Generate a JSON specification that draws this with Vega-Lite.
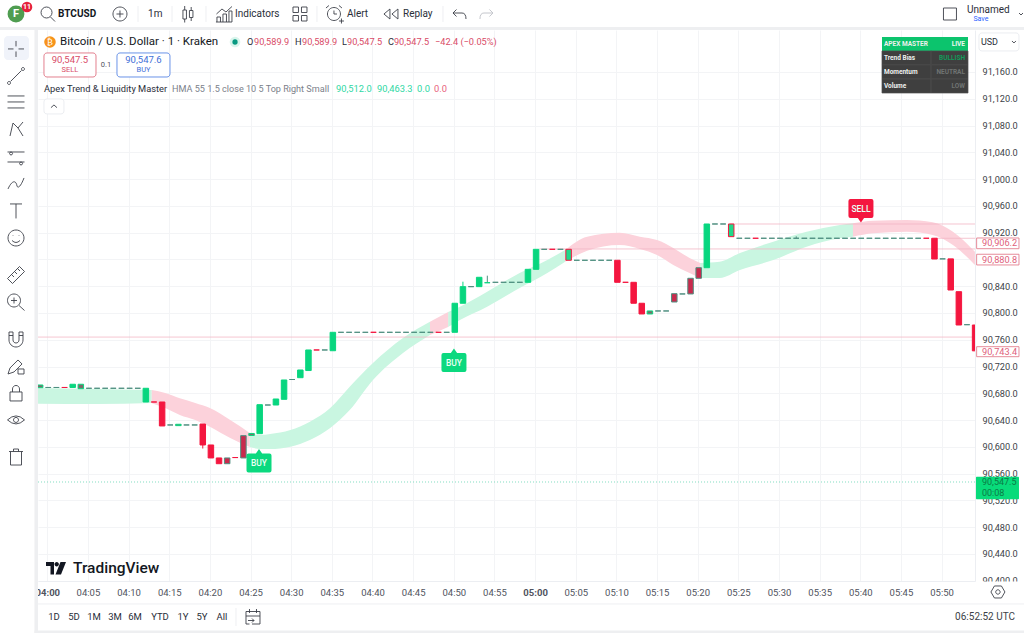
{
  "$schema": "https://vega.github.io/schema/vega-lite/v6.json",
  "width": 937,
  "height": 551,
  "autosize": "none",
  "padding": {"left": 38, "top": 30, "right": 49, "bottom": 52},
  "background": "white",
  "config": {"view": {"stroke": null}, "text": {"font": "Roboto"}, "axis": {"labelFont": "Roboto"}},
  "datasets": {
    "band": [
      {"seg": 1, "trend": "bull", "m": -1.14, "p": 90687.9, "p2": 90664.5},
      {"seg": 1, "trend": "bull", "m": 6, "p": 90686.4, "p2": 90664},
      {"seg": 1, "trend": "bull", "m": 12.85, "p": 90685, "p2": 90665.5},
      {"seg": 2, "trend": "bear", "m": 12.85, "p": 90685, "p2": 90665},
      {"seg": 2, "trend": "bear", "m": 14.5, "p": 90680.5, "p2": 90658},
      {"seg": 2, "trend": "bear", "m": 16.3, "p": 90672.5, "p2": 90647.6},
      {"seg": 2, "trend": "bear", "m": 18.2, "p": 90665.5, "p2": 90640.1},
      {"seg": 2, "trend": "bear", "m": 20, "p": 90658, "p2": 90630.1},
      {"seg": 2, "trend": "bear", "m": 22.5, "p": 90640.1, "p2": 90613.2},
      {"seg": 2, "trend": "bear", "m": 24.9, "p": 90620.7, "p2": 90599.8},
      {"seg": 3, "trend": "bull", "m": 24.9, "p": 90619.2, "p2": 90599.8},
      {"seg": 3, "trend": "bull", "m": 26.2, "p": 90617.7, "p2": 90596.8},
      {"seg": 3, "trend": "bull", "m": 27.4, "p": 90619.2, "p2": 90596.8},
      {"seg": 3, "trend": "bull", "m": 29.9, "p": 90625.2, "p2": 90600.2},
      {"seg": 3, "trend": "bull", "m": 32.3, "p": 90637.6, "p2": 90610.2},
      {"seg": 3, "trend": "bull", "m": 34.8, "p": 90658, "p2": 90628.2},
      {"seg": 3, "trend": "bull", "m": 37.2, "p": 90689.9, "p2": 90655.1},
      {"seg": 3, "trend": "bull", "m": 40.06, "p": 90725.3, "p2": 90699.9},
      {"seg": 3, "trend": "bull", "m": 43.75, "p": 90762.6, "p2": 90740.2},
      {"seg": 3, "trend": "bull", "m": 47.07, "p": 90787, "p2": 90767.1},
      {"seg": 4, "trend": "bear", "m": 47.07, "p": 90787, "p2": 90767.1},
      {"seg": 4, "trend": "bear", "m": 49.3, "p": 90801.5, "p2": 90779.1},
      {"seg": 5, "trend": "bull", "m": 49.3, "p": 90801.5, "p2": 90779.1},
      {"seg": 5, "trend": "bull", "m": 50.76, "p": 90809.4, "p2": 90789.5},
      {"seg": 5, "trend": "bull", "m": 54.1, "p": 90831.8, "p2": 90809.4},
      {"seg": 5, "trend": "bull", "m": 58.1, "p": 90859.7, "p2": 90837.3},
      {"seg": 5, "trend": "bull", "m": 61.5, "p": 90879.1, "p2": 90859.7},
      {"seg": 5, "trend": "bull", "m": 63.7, "p": 90894.1, "p2": 90876.6},
      {"seg": 6, "trend": "bear", "m": 63.7, "p": 90894.1, "p2": 90876.6},
      {"seg": 6, "trend": "bear", "m": 66.4, "p": 90914, "p2": 90893},
      {"seg": 6, "trend": "bear", "m": 70.4, "p": 90920, "p2": 90901.6},
      {"seg": 6, "trend": "bear", "m": 72.9, "p": 90914, "p2": 90895.6},
      {"seg": 6, "trend": "bear", "m": 75, "p": 90909, "p2": 90886.6},
      {"seg": 6, "trend": "bear", "m": 77, "p": 90897.1, "p2": 90871.7},
      {"seg": 6, "trend": "bear", "m": 79, "p": 90882.1, "p2": 90859.7},
      {"seg": 6, "trend": "bear", "m": 80.3, "p": 90874.7, "p2": 90852.3},
      {"seg": 7, "trend": "bull", "m": 80.3, "p": 90874.7, "p2": 90852.3},
      {"seg": 7, "trend": "bull", "m": 82.7, "p": 90876.6, "p2": 90852.3},
      {"seg": 7, "trend": "bull", "m": 85.2, "p": 90889.6, "p2": 90864.2},
      {"seg": 7, "trend": "bull", "m": 89.3, "p": 90906.5, "p2": 90879.1},
      {"seg": 7, "trend": "bull", "m": 93.4, "p": 90921.4, "p2": 90899},
      {"seg": 7, "trend": "bull", "m": 97.5, "p": 90931.4, "p2": 90911.6},
      {"seg": 7, "trend": "bull", "m": 99.1, "p": 90934, "p2": 90914},
      {"seg": 8, "trend": "bear", "m": 99.1, "p": 90934, "p2": 90914},
      {"seg": 8, "trend": "bear", "m": 101.6, "p": 90937.9, "p2": 90919},
      {"seg": 8, "trend": "bear", "m": 105.7, "p": 90938.9, "p2": 90921.4},
      {"seg": 8, "trend": "bear", "m": 108.9, "p": 90935.5, "p2": 90916.5},
      {"seg": 8, "trend": "bear", "m": 111.4, "p": 90921.4, "p2": 90901.6},
      {"seg": 8, "trend": "bear", "m": 114.1, "p": 90891.5, "p2": 90871.7}
    ],
    "levels": [
      {"kind": "pink", "m": -1.14, "m2": 114.11, "p": 90764},
      {"kind": "pink", "m": 60.5, "m2": 114.11, "p": 90895.6},
      {"kind": "pink", "m": 84, "m2": 114.11, "p": 90932.9},
      {"kind": "pink", "m": 109, "m2": 114.11, "p": 90911.6},
      {"kind": "now", "m": -1.14, "m2": 114.11, "p": 90547.5}
    ],
    "candles": [
      {"m": -1, "p": 90692.4, "p2": 90688.4, "kind": "dark"},
      {"m": 0, "p": 90688.7, "p2": 90688.7, "kind": "doji"},
      {"m": 1, "p": 90688.7, "p2": 90688.7, "kind": "doji"},
      {"m": 2, "p": 90688.7, "p2": 90688.7, "kind": "dojiRed"},
      {"m": 3, "p": 90688.7, "p2": 90693.5, "kind": "up"},
      {"m": 4, "p": 90693.5, "p2": 90686.9, "kind": "dark"},
      {"m": 5, "p": 90687.5, "p2": 90687.5, "kind": "doji"},
      {"m": 6, "p": 90687.5, "p2": 90687.5, "kind": "doji"},
      {"m": 7, "p": 90687.5, "p2": 90687.5, "kind": "doji"},
      {"m": 8, "p": 90687.5, "p2": 90687.5, "kind": "doji"},
      {"m": 9, "p": 90687.5, "p2": 90687.5, "kind": "doji"},
      {"m": 10, "p": 90687.5, "p2": 90687.5, "kind": "doji"},
      {"m": 11, "p": 90687.5, "p2": 90687.5, "kind": "doji"},
      {"m": 12, "p": 90667, "p2": 90687.5, "kind": "upDark"},
      {"m": 13, "p": 90667, "p2": 90667, "kind": "dojiRed"},
      {"m": 14, "p": 90667, "p2": 90631.2, "kind": "down"},
      {"m": 15, "p": 90632.7, "p2": 90632.7, "kind": "doji"},
      {"m": 16, "p": 90633.7, "p2": 90631.7, "kind": "dark"},
      {"m": 17, "p": 90632.7, "p2": 90632.7, "kind": "doji"},
      {"m": 18, "p": 90632.7, "p2": 90632.7, "kind": "doji"},
      {"m": 19, "p": 90634.1, "p2": 90602.8, "kind": "down"},
      {"m": 20, "p": 90602.8, "p2": 90583.4, "kind": "down"},
      {"m": 21, "p": 90583.4, "p2": 90574.8, "kind": "down"},
      {"m": 22, "p": 90583.4, "p2": 90574.8, "kind": "downDark"},
      {"m": 23, "p": 90584, "p2": 90584, "kind": "dojiRed"},
      {"m": 24, "p": 90583.4, "p2": 90616.7, "kind": "downDark"},
      {"m": 25, "p": 90620, "p2": 90617, "kind": "dark"},
      {"m": 26, "p": 90619.7, "p2": 90663, "kind": "up"},
      {"m": 27, "p": 90662.5, "p2": 90662.5, "kind": "doji"},
      {"m": 28, "p": 90662.5, "p2": 90671.5, "kind": "up"},
      {"m": 29, "p": 90671, "p2": 90699.9, "kind": "up"},
      {"m": 30, "p": 90700.6, "p2": 90700.6, "kind": "doji"},
      {"m": 31, "p": 90703.3, "p2": 90714.8, "kind": "up"},
      {"m": 32, "p": 90714, "p2": 90744.7, "kind": "up"},
      {"m": 33, "p": 90744.7, "p2": 90744.7, "kind": "dojiRed"},
      {"m": 34, "p": 90744.7, "p2": 90744.7, "kind": "doji"},
      {"m": 35, "p": 90743.6, "p2": 90771.1, "kind": "up"},
      {"m": 36, "p": 90771.1, "p2": 90771.1, "kind": "doji"},
      {"m": 37, "p": 90771.1, "p2": 90771.1, "kind": "doji"},
      {"m": 38, "p": 90771.1, "p2": 90771.1, "kind": "doji"},
      {"m": 39, "p": 90771.1, "p2": 90771.1, "kind": "doji"},
      {"m": 40, "p": 90771.1, "p2": 90771.1, "kind": "dojiRed"},
      {"m": 41, "p": 90771.1, "p2": 90771.1, "kind": "doji"},
      {"m": 42, "p": 90771.1, "p2": 90771.1, "kind": "doji"},
      {"m": 43, "p": 90771.1, "p2": 90771.1, "kind": "doji"},
      {"m": 44, "p": 90771.1, "p2": 90771.1, "kind": "doji"},
      {"m": 45, "p": 90771.1, "p2": 90771.1, "kind": "doji"},
      {"m": 46, "p": 90771.1, "p2": 90771.1, "kind": "doji"},
      {"m": 47, "p": 90771.1, "p2": 90771.1, "kind": "doji"},
      {"m": 48, "p": 90771.1, "p2": 90771.1, "kind": "dojiRed"},
      {"m": 49, "p": 90771.1, "p2": 90771.1, "kind": "doji"},
      {"m": 50, "p": 90771.1, "p2": 90814.5, "kind": "up"},
      {"m": 51, "p": 90814.5, "p2": 90839.3, "kind": "up"},
      {"m": 52, "p": 90839.3, "p2": 90839.3, "kind": "doji"},
      {"m": 53, "p": 90839.3, "p2": 90853.3, "kind": "up"},
      {"m": 54, "p": 90845.2, "p2": 90845.2, "kind": "up"},
      {"m": 55, "p": 90845.8, "p2": 90845.8, "kind": "doji"},
      {"m": 56, "p": 90845.8, "p2": 90845.8, "kind": "doji"},
      {"m": 57, "p": 90845.8, "p2": 90845.8, "kind": "doji"},
      {"m": 58, "p": 90845.8, "p2": 90845.8, "kind": "doji"},
      {"m": 59, "p": 90845.8, "p2": 90865.2, "kind": "up"},
      {"m": 60, "p": 90865.2, "p2": 90895.1, "kind": "up"},
      {"m": 61, "p": 90895.1, "p2": 90895.1, "kind": "doji"},
      {"m": 62, "p": 90895.1, "p2": 90895.1, "kind": "dojiRed"},
      {"m": 63, "p": 90895.1, "p2": 90895.1, "kind": "doji"},
      {"m": 64, "p": 90895.1, "p2": 90878.7, "kind": "upEdge"},
      {"m": 65, "p": 90878.7, "p2": 90878.7, "kind": "doji"},
      {"m": 66, "p": 90878.7, "p2": 90878.7, "kind": "doji"},
      {"m": 67, "p": 90878.7, "p2": 90878.7, "kind": "doji"},
      {"m": 68, "p": 90878.7, "p2": 90878.7, "kind": "doji"},
      {"m": 69, "p": 90878.7, "p2": 90878.7, "kind": "doji"},
      {"m": 70, "p": 90878.7, "p2": 90845.8, "kind": "down"},
      {"m": 71, "p": 90845.8, "p2": 90845.8, "kind": "dojiRed"},
      {"m": 72, "p": 90845.8, "p2": 90814.5, "kind": "down"},
      {"m": 73, "p": 90814.5, "p2": 90798.5, "kind": "down"},
      {"m": 74, "p": 90803, "p2": 90798.5, "kind": "dark"},
      {"m": 75, "p": 90803, "p2": 90803, "kind": "doji"},
      {"m": 76, "p": 90803, "p2": 90803, "kind": "doji"},
      {"m": 77, "p": 90816.4, "p2": 90828.8, "kind": "downDark"},
      {"m": 78, "p": 90828.4, "p2": 90828.4, "kind": "doji"},
      {"m": 79, "p": 90828.4, "p2": 90851.8, "kind": "downDark"},
      {"m": 80, "p": 90851.8, "p2": 90867.6, "kind": "downDark"},
      {"m": 81, "p": 90867.6, "p2": 90932.9, "kind": "up"},
      {"m": 82, "p": 90932.9, "p2": 90932.9, "kind": "doji"},
      {"m": 83, "p": 90932.9, "p2": 90932.9, "kind": "doji"},
      {"m": 84, "p": 90932.9, "p2": 90914, "kind": "upEdge"},
      {"m": 85, "p": 90911.6, "p2": 90911.6, "kind": "doji"},
      {"m": 86, "p": 90911.6, "p2": 90911.6, "kind": "doji"},
      {"m": 87, "p": 90911.6, "p2": 90911.6, "kind": "dojiRed"},
      {"m": 88, "p": 90911.6, "p2": 90911.6, "kind": "doji"},
      {"m": 89, "p": 90911.6, "p2": 90911.6, "kind": "doji"},
      {"m": 90, "p": 90911.6, "p2": 90911.6, "kind": "doji"},
      {"m": 91, "p": 90911.6, "p2": 90911.6, "kind": "doji"},
      {"m": 92, "p": 90911.6, "p2": 90911.6, "kind": "doji"},
      {"m": 93, "p": 90911.6, "p2": 90911.6, "kind": "doji"},
      {"m": 94, "p": 90911.6, "p2": 90911.6, "kind": "doji"},
      {"m": 95, "p": 90911.6, "p2": 90911.6, "kind": "doji"},
      {"m": 96, "p": 90911.6, "p2": 90911.6, "kind": "doji"},
      {"m": 97, "p": 90911.6, "p2": 90911.6, "kind": "doji"},
      {"m": 98, "p": 90911.6, "p2": 90911.6, "kind": "doji"},
      {"m": 99, "p": 90911.6, "p2": 90911.6, "kind": "doji"},
      {"m": 100, "p": 90911.6, "p2": 90911.6, "kind": "doji"},
      {"m": 101, "p": 90911.6, "p2": 90911.6, "kind": "doji"},
      {"m": 102, "p": 90911.6, "p2": 90911.6, "kind": "doji"},
      {"m": 103, "p": 90911.6, "p2": 90911.6, "kind": "doji"},
      {"m": 104, "p": 90911.6, "p2": 90911.6, "kind": "doji"},
      {"m": 105, "p": 90911.6, "p2": 90911.6, "kind": "doji"},
      {"m": 106, "p": 90911.6, "p2": 90911.6, "kind": "doji"},
      {"m": 107, "p": 90911.6, "p2": 90911.6, "kind": "doji"},
      {"m": 108, "p": 90911.6, "p2": 90911.6, "kind": "dojiRed"},
      {"m": 109, "p": 90911.6, "p2": 90880.6, "kind": "down"},
      {"m": 110, "p": 90880.8, "p2": 90880.8, "kind": "doji"},
      {"m": 111, "p": 90880.8, "p2": 90834.3, "kind": "down"},
      {"m": 112, "p": 90831.8, "p2": 90782, "kind": "down"},
      {"m": 113, "p": 90782.5, "p2": 90782.5, "kind": "doji"},
      {"m": 114, "p": 90782, "p2": 90743.4, "kind": "down"}
    ],
    "wicks": [
      {"m": 19, "p": 90634.1, "p2": 90597.5, "kind": "down"},
      {"m": 51, "p": 90839.3, "p2": 90846.7, "kind": "up"},
      {"m": 54, "p": 90845.2, "p2": 90855.7, "kind": "doji"},
      {"m": 92, "p": 90911.6, "p2": 90914.5, "kind": "doji"}
    ],
    "signals": [
      {"m": 26.04, "p": 90575.9, "text": "BUY"},
      {"m": 50.02, "p": 90726, "text": "BUY"},
      {"m": 100.08, "p": 90956, "text": "SELL"}
    ],
    "boxes": [
      {"g": "strip", "m": -5.82, "m2": 120.14, "p": 91227.2, "p2": 91222.7},
      {"g": "strip", "m": -1.58, "m2": -1.14, "p": 91222.7, "p2": 90321.9},
      {"g": "strip", "m": -1.58, "m2": 120.14, "p": 90325.6, "p2": 90321.9},
      {"g": "cover", "m": 114.23, "m2": 120.14, "p": 90398.8, "p2": 90365.3},
      {"g": "tool", "m": -5.33, "m2": -2.25, "p": 91213.8, "p2": 91177.9},
      {"g": "sell", "m": -0.41, "m2": 5.99, "p": 91188.4, "p2": 91152.5},
      {"g": "buy", "m": 8.57, "m2": 15.09, "p": 91188.4, "p2": 91152.5},
      {"g": "soft", "m": -0.41, "m2": 2.05, "p": 91119.7, "p2": 91097.3},
      {"g": "soft", "m": 114.6, "m2": 119.52, "p": 91218.3, "p2": 91191.4},
      {"g": "head", "m": 102.67, "m2": 113.25, "p": 91212.3, "p2": 91191.4},
      {"g": "panel", "m": 102.67, "m2": 108.7, "p": 91191.4, "p2": 91170.5},
      {"g": "panel", "m": 108.7, "m2": 113.25, "p": 91191.4, "p2": 91170.5},
      {"g": "panel", "m": 102.67, "m2": 108.7, "p": 91170.5, "p2": 91149.5},
      {"g": "panel", "m": 108.7, "m2": 113.25, "p": 91170.5, "p2": 91149.5},
      {"g": "panel", "m": 102.67, "m2": 108.7, "p": 91149.5, "p2": 91128.6},
      {"g": "panel", "m": 108.7, "m2": 113.25, "p": 91149.5, "p2": 91128.6},
      {"g": "tag", "m": 114.31, "m2": 119.52, "p": 90912, "p2": 90896},
      {"g": "tag", "m": 114.31, "m2": 119.52, "p": 90887.7, "p2": 90871.7},
      {"g": "tag", "m": 114.31, "m2": 119.52, "p": 90749.6, "p2": 90734.7},
      {"g": "now", "m": 114.23, "m2": 119.52, "p": 90555.4, "p2": 90521.6}
    ],
    "seps": [
      {"m": 11.16, "p": 91258.6, "p2": 91234.7},
      {"m": 15.34, "p": 91258.6, "p2": 91234.7},
      {"m": 19.52, "p": 91258.6, "p2": 91234.7},
      {"m": 33.17, "p": 91258.6, "p2": 91234.7},
      {"m": 48.67, "p": 91258.6, "p2": 91234.7},
      {"m": 23.21, "p": 90359.3, "p2": 90332.4}
    ],
    "dividers": [
      {"m": -1.14, "m2": 120.14, "p": 90365.3}
    ],
    "discs": [
      {"g": "avatar", "m": -3.85, "p": 91246.6},
      {"g": "badge", "m": -2.5, "p": 91257.1},
      {"g": "coin", "m": 0.33, "p": 91204.8},
      {"g": "halo", "m": 23.09, "p": 91204.8},
      {"g": "live", "m": 23.09, "p": 91204.8}
    ],
    "icons": [
      {"icon": "cross", "m": -3.85, "p": 91194.4},
      {"icon": "line", "m": -3.85, "p": 91154},
      {"icon": "lines", "m": -3.85, "p": 91115.2},
      {"icon": "nodes", "m": -3.85, "p": 91074.8},
      {"icon": "fork", "m": -3.85, "p": 91033},
      {"icon": "brush", "m": -3.85, "p": 90992.7},
      {"icon": "type", "m": -3.85, "p": 90952.4},
      {"icon": "smile", "m": -3.85, "p": 90912},
      {"icon": "ruler", "m": -3.85, "p": 90856.7},
      {"icon": "zoom", "m": -3.85, "p": 90816.4},
      {"icon": "magnet", "m": -3.85, "p": 90761.1},
      {"icon": "pencil", "m": -3.85, "p": 90720.8},
      {"icon": "lock", "m": -3.85, "p": 90680.5},
      {"icon": "eye", "m": -3.85, "p": 90640.2},
      {"icon": "trash", "m": -3.85, "p": 90584.8},
      {"icon": "search", "m": 0.09, "p": 91246.6},
      {"icon": "add", "m": 8.94, "p": 91246.6},
      {"icon": "bars", "m": 17.3, "p": 91246.6},
      {"icon": "chart", "m": 21.73, "p": 91246.6},
      {"icon": "grid", "m": 31.08, "p": 91246.6},
      {"icon": "alarm", "m": 35.26, "p": 91246.6},
      {"icon": "replay", "m": 42.27, "p": 91246.6},
      {"icon": "undo", "m": 50.64, "p": 91246.6},
      {"icon": "redo", "m": 54.08, "p": 91246.6},
      {"icon": "square", "m": 111.03, "p": 91246.6},
      {"icon": "down", "m": 119.77, "p": 91246.6},
      {"icon": "down", "m": 118.9, "p": 91204.8},
      {"icon": "up", "m": 0.82, "p": 91108.5},
      {"icon": "calendar", "m": 25.3, "p": 90345.8},
      {"icon": "gear", "m": 116.93, "p": 90383.2}
    ],
    "logo": [
      {"m": 1.07, "p": 90419}
    ],
    "labels": [
      {"g": "sym", "m": 1.32, "p": 91246.6, "text": "BTCUSD"},
      {"g": "bar", "m": 12.39, "p": 91246.6, "text": "1m"},
      {"g": "bar", "m": 23.09, "p": 91246.6, "text": "Indicators"},
      {"g": "bar", "m": 36.86, "p": 91246.6, "text": "Alert"},
      {"g": "bar", "m": 43.75, "p": 91246.6, "text": "Replay"},
      {"g": "doc", "m": 113.12, "p": 91252.6, "text": "Unnamed"},
      {"g": "save", "m": 114.84, "p": 91239.2, "text": "Save"},
      {"g": "avatar", "m": -3.85, "p": 91246.6, "text": "F"},
      {"g": "badge", "m": -2.5, "p": 91257.1, "text": "11"},
      {"g": "coin", "m": 0.33, "p": 91204.8, "text": "₿"},
      {"g": "title", "m": 1.56, "p": 91204.8, "text": "Bitcoin / U.S. Dollar · 1 · Kraken"},
      {"g": "key", "m": 24.56, "p": 91204.8, "text": "O"},
      {"g": "val", "m": 25.42, "p": 91204.8, "text": "90,589.9"},
      {"g": "key", "m": 30.47, "p": 91204.8, "text": "H"},
      {"g": "val", "m": 31.33, "p": 91204.8, "text": "90,589.9"},
      {"g": "key", "m": 36.25, "p": 91204.8, "text": "L"},
      {"g": "val", "m": 36.86, "p": 91204.8, "text": "90,547.5"},
      {"g": "key", "m": 41.9, "p": 91204.8, "text": "C"},
      {"g": "val", "m": 42.64, "p": 91204.8, "text": "90,547.5"},
      {"g": "val", "m": 47.69, "p": 91204.8, "text": "−42.4 (−0.05%)"},
      {"g": "sellP", "m": 2.79, "p": 91177.9, "text": "90,547.5"},
      {"g": "sellL", "m": 2.79, "p": 91163, "text": "SELL"},
      {"g": "buyP", "m": 11.83, "p": 91177.9, "text": "90,547.6"},
      {"g": "buyL", "m": 11.83, "p": 91163, "text": "BUY"},
      {"g": "qty", "m": 7.22, "p": 91170.5, "text": "0.1"},
      {"g": "indName", "m": -0.41, "p": 91134.6, "text": "Apex Trend & Liquidity Master"},
      {"g": "indArgs", "m": 15.34, "p": 91134.6, "text": "HMA 55 1.5 close 10 5 Top Right Small"},
      {"g": "indUp", "m": 35.51, "p": 91134.6, "text": "90,512.0"},
      {"g": "indUp", "m": 40.55, "p": 91134.6, "text": "90,463.3"},
      {"g": "indUp", "m": 45.47, "p": 91134.6, "text": "0.0"},
      {"g": "indDown", "m": 47.56, "p": 91134.6, "text": "0.0"},
      {"g": "tKey", "m": 102.91, "p": 91201.8, "text": "APEX MASTER"},
      {"g": "tKey", "m": 102.91, "p": 91180.9, "text": "Trend Bias"},
      {"g": "tKey", "m": 102.91, "p": 91160, "text": "Momentum"},
      {"g": "tKey", "m": 102.91, "p": 91139.1, "text": "Volume"},
      {"g": "tLive", "m": 112.88, "p": 91201.8, "text": "LIVE"},
      {"g": "tBull", "m": 112.88, "p": 91180.9, "text": "BULLISH"},
      {"g": "tMute", "m": 112.88, "p": 91160, "text": "NEUTRAL"},
      {"g": "tMute", "m": 112.88, "p": 91139.1, "text": "LOW"},
      {"g": "usd", "m": 114.84, "p": 91204.8, "text": "USD"},
      {"g": "logo", "m": 3.16, "p": 90419, "text": "TradingView"},
      {"g": "range", "m": 0.82, "p": 90345.8, "text": "1D"},
      {"g": "range", "m": 3.28, "p": 90345.8, "text": "5D"},
      {"g": "range", "m": 5.74, "p": 90345.8, "text": "1M"},
      {"g": "range", "m": 8.33, "p": 90345.8, "text": "3M"},
      {"g": "range", "m": 10.79, "p": 90345.8, "text": "6M"},
      {"g": "range", "m": 13.86, "p": 90345.8, "text": "YTD"},
      {"g": "range", "m": 16.69, "p": 90345.8, "text": "1Y"},
      {"g": "range", "m": 19.03, "p": 90345.8, "text": "5Y"},
      {"g": "range", "m": 21.49, "p": 90345.8, "text": "All"},
      {"g": "clock", "m": 119.03, "p": 90345.8, "text": "06:52:52 UTC"},
      {"g": "tag", "m": 114.97, "p": 90904.1, "text": "90,906.2"},
      {"g": "tag", "m": 114.97, "p": 90879.8, "text": "90,880.8"},
      {"g": "tag", "m": 114.97, "p": 90742.2, "text": "90,743.4"},
      {"g": "now", "m": 114.97, "p": 90547, "text": "90,547.5"},
      {"g": "now", "m": 114.97, "p": 90530.5, "text": "00:08"}
    ]
  },
  "encoding": {
    "x": {
      "field": "m",
      "type": "quantitative",
      "title": null,
      "scale": {"domain": [-1.144, 114.11], "nice": false, "zero": false, "padding": 0},
      "axis": {
        "values": [0, 5, 10, 15, 20, 25, 30, 35, 40, 45, 50, 55, 60, 65, 70, 75, 80, 85, 90, 95, 100, 105, 110],
        "labelExpr": "format(4 + floor(datum.value / 60), '02d') + ':' + format(datum.value % 60, '02d')",
        "labelFontSize": 9.5,
        "labelColor": "#50535e",
        "labelFontWeight": {"condition": {"test": "datum.value % 60 == 0", "value": "bold"}, "value": "normal"},
        "labelPadding": 6,
        "labelOverlap": false,
        "labelFlush": false,
        "tickSize": 0,
        "domainColor": "#eceef2",
        "gridColor": "#f3f4f6"
      }
    },
    "y": {
      "field": "p",
      "type": "quantitative",
      "title": null,
      "scale": {"domain": [90399.6, 91222.7], "nice": false, "zero": false},
      "axis": {
        "orient": "right",
        "values": [90400, 90440, 90480, 90520, 90560, 90600, 90640, 90680, 90720, 90760, 90800, 90840, 90880, 90920, 90960, 91000, 91040, 91080, 91120, 91160],
        "format": ",.1f",
        "labelFontSize": 9.2,
        "labelColor": "#3c3f48",
        "labelPadding": 7,
        "labelOverlap": false,
        "labelFlush": false,
        "tickSize": 0,
        "domainColor": "#eceef2",
        "gridColor": "#f3f4f6"
      }
    }
  },
  "layer": [
    {"data": {"name": "band"}, "transform": [{"filter": "datum.trend == 'bull'"}], "mark": {"type": "area", "color": "#c9f6e1", "interpolate": "monotone"}, "encoding": {"y2": {"field": "p2"}, "detail": {"field": "seg"}}},
    {"data": {"name": "band"}, "transform": [{"filter": "datum.trend == 'bear'"}], "mark": {"type": "area", "color": "#fcd2db", "interpolate": "monotone"}, "encoding": {"y2": {"field": "p2"}, "detail": {"field": "seg"}}},
    {"data": {"name": "levels"}, "transform": [{"filter": "datum.kind == 'pink'"}], "mark": {"type": "rule", "color": "#f3b6c4", "strokeWidth": 0.8}, "encoding": {"x2": {"field": "m2"}}},
    {"data": {"name": "levels"}, "transform": [{"filter": "datum.kind == 'now'"}], "mark": {"type": "rule", "color": "#7fdcc0", "strokeWidth": 1, "strokeDash": [1, 2]}, "encoding": {"x2": {"field": "m2"}}},
    {
      "data": {"name": "wicks"},
      "mark": {"type": "rule", "strokeWidth": 1, "clip": true, "xOffset": 1},
      "encoding": {
        "y2": {"field": "p2"},
        "stroke": {"field": "kind", "type": "nominal", "legend": null, "scale": {"domain": ["up", "down", "doji"], "range": ["#08d67f", "#f4163f", "#4f8f80"]}}
      }
    },
    {
      "data": {"name": "candles"},
      "mark": {"type": "bar", "size": 5.5, "strokeWidth": 1, "clip": true, "xOffset": 1},
      "encoding": {
        "y2": {"field": "p2"},
        "fill": {"field": "kind", "type": "nominal", "legend": null, "scale": {"domain": ["up", "upDark", "upEdge", "down", "downDark", "dark", "doji", "dojiRed"], "range": ["#08d67f", "#08d67f", "#1fd98a", "#f4163f", "#c92a4d", "#7d6a6a", "#5ea596", "#e98a98"]}},
        "stroke": {"field": "kind", "type": "nominal", "legend": null, "scale": {"domain": ["up", "upDark", "upEdge", "down", "downDark", "dark", "doji", "dojiRed"], "range": ["#08d67f", "#5f9c78", "#c99a6a", "#f4163f", "#c92a4d", "#7d6a6a", "#5ea596", "#e98a98"]}}
      }
    },
    {"data": {"name": "signals"}, "transform": [{"filter": "datum.text == 'BUY'"}], "mark": {"type": "point", "filled": true, "opacity": 1, "color": "#0bd97f", "size": 625, "shape": "M-.84,-.76L-.25,-.76L0,-1.12L.25,-.76L.84,-.76Q1,-.76 1,-.6L1,.6Q1,.76 .84,.76L-.84,.76Q-1,.76 -1,.6L-1,-.6Q-1,-.76 -.84,-.76Z"}},
    {"data": {"name": "signals"}, "transform": [{"filter": "datum.text == 'SELL'"}], "mark": {"type": "point", "filled": true, "opacity": 1, "color": "#f4163f", "size": 625, "shape": "M-.84,.76L-.25,.76L0,1.12L.25,.76L.84,.76Q1,.76 1,.6L1,-.6Q1,-.76 .84,-.76L-.84,-.76Q-1,-.76 -1,-.6L-1,.6Q-1,.76 -.84,.76Z"}},
    {"data": {"name": "signals"}, "mark": {"type": "text", "fontSize": 8.5, "fontWeight": 500, "color": "#e9fff5"}, "encoding": {"text": {"field": "text"}}},
    {"data": {"name": "boxes"}, "transform": [{"filter": "datum.g == 'strip'"}], "mark": {"type": "rect", "color": "#eeeff1"}, "encoding": {"x2": {"field": "m2"}, "y2": {"field": "p2"}}},
    {"data": {"name": "boxes"}, "transform": [{"filter": "datum.g == 'cover'"}], "mark": {"type": "rect", "color": "white"}, "encoding": {"x2": {"field": "m2"}, "y2": {"field": "p2"}}},
    {"data": {"name": "boxes"}, "transform": [{"filter": "datum.g == 'tool'"}], "mark": {"type": "rect", "color": "#f0f3fa", "cornerRadius": 4}, "encoding": {"x2": {"field": "m2"}, "y2": {"field": "p2"}}},
    {"data": {"name": "boxes"}, "transform": [{"filter": "datum.g == 'sell'"}], "mark": {"type": "rect", "fill": "white", "stroke": "#e3808f", "cornerRadius": 3}, "encoding": {"x2": {"field": "m2"}, "y2": {"field": "p2"}}},
    {"data": {"name": "boxes"}, "transform": [{"filter": "datum.g == 'buy'"}], "mark": {"type": "rect", "fill": "white", "stroke": "#6a93e8", "cornerRadius": 3}, "encoding": {"x2": {"field": "m2"}, "y2": {"field": "p2"}}},
    {"data": {"name": "boxes"}, "transform": [{"filter": "datum.g == 'soft'"}], "mark": {"type": "rect", "fill": "white", "stroke": "#ebedf1", "cornerRadius": 3}, "encoding": {"x2": {"field": "m2"}, "y2": {"field": "p2"}}},
    {"data": {"name": "boxes"}, "transform": [{"filter": "datum.g == 'head'"}], "mark": {"type": "rect", "color": "#0cc46d"}, "encoding": {"x2": {"field": "m2"}, "y2": {"field": "p2"}}},
    {"data": {"name": "boxes"}, "transform": [{"filter": "datum.g == 'panel'"}], "mark": {"type": "rect", "fill": "#3f3f3f", "stroke": "#4d4d4d", "strokeWidth": 0.7}, "encoding": {"x2": {"field": "m2"}, "y2": {"field": "p2"}}},
    {"data": {"name": "boxes"}, "transform": [{"filter": "datum.g == 'tag'"}], "mark": {"type": "rect", "fill": "white", "stroke": "#e3808f", "strokeWidth": 0.9}, "encoding": {"x2": {"field": "m2"}, "y2": {"field": "p2"}}},
    {"data": {"name": "boxes"}, "transform": [{"filter": "datum.g == 'now'"}], "mark": {"type": "rect", "color": "#08db7a", "cornerRadius": 1}, "encoding": {"x2": {"field": "m2"}, "y2": {"field": "p2"}}},
    {"data": {"name": "seps"}, "mark": {"type": "rule", "color": "#eeeff2"}, "encoding": {"y2": {"field": "p2"}}},
    {"data": {"name": "dividers"}, "mark": {"type": "rule", "color": "#eeeff2"}, "encoding": {"x2": {"field": "m2"}}},
    {"data": {"name": "discs"}, "transform": [{"filter": "datum.g == 'avatar'"}], "mark": {"type": "circle", "color": "#4f9d50", "opacity": 1, "size": 283}},
    {"data": {"name": "discs"}, "transform": [{"filter": "datum.g == 'badge'"}], "mark": {"type": "circle", "color": "#e5213c", "opacity": 1, "size": 113}},
    {"data": {"name": "discs"}, "transform": [{"filter": "datum.g == 'coin'"}], "mark": {"type": "circle", "color": "#f7931a", "opacity": 1, "size": 133}},
    {"data": {"name": "discs"}, "transform": [{"filter": "datum.g == 'halo'"}], "mark": {"type": "circle", "color": "#d9f5ec", "opacity": 1, "size": 113}},
    {"data": {"name": "discs"}, "transform": [{"filter": "datum.g == 'live'"}], "mark": {"type": "circle", "color": "#089981", "opacity": 1, "size": 28}},
    {
      "data": {"name": "icons"},
      "transform": [{"filter": "datum.icon != 'redo'"}],
      "mark": {"type": "point", "filled": false, "opacity": 1, "size": 400, "stroke": "#3c3f48", "strokeWidth": 0.9},
      "encoding": {
        "shape": {
          "field": "icon",
          "type": "nominal",
          "legend": null,
          "scale": {
            "domain": ["cross", "line", "lines", "nodes", "fork", "brush", "type", "smile", "ruler", "zoom", "magnet", "pencil", "lock", "eye", "trash", "search", "add", "bars", "chart", "grid", "alarm", "replay", "undo", "square", "down", "up", "calendar", "gear"],
            "range": [
              "M0,-.8V-.25M0,.25V.8M-.8,0H-.25M.25,0H.8",
              "M-.55,.55L.55,-.55M-.85,.7a.15,.15 0 1,0 .3,0a.15,.15 0 1,0 -.3,0M.55,-.7a.15,.15 0 1,0 .3,0a.15,.15 0 1,0 -.3,0",
              "M-.85,-.6H.85M-.85,0H.85M-.85,.6H.85",
              "M-.6,.7L-.3,-.6L.2,-.1L.7,-.7M.2,-.1L.7,.7",
              "M-.85,-.5H.85M-.85,.5H.85M-.5,-.5a.15,.15 0 1,0 .01,0M.5,.5a.15,.15 0 1,0 .01,0",
              "M-.8,.5C-.4,-.4 0,-.4 .1,.2C.2,.5 .5,.2 .8,-.6",
              "M-.6,-.7H.6M0,-.7V.75",
              "M-.8,0a.8,.8 0 1,0 1.6,0a.8,.8 0 1,0 -1.6,0M-.4,.25Q0,.65 .4,.25M-.3,-.25V-.2M.3,-.25V-.2",
              "M-.85,.35L.35,-.85L.85,-.35L-.35,.85ZM-.45,-.05L-.2,.2M-.15,-.35L.1,-.1M.15,-.65L.4,-.4",
              "M-.85,-.15a.65,.65 0 1,0 1.3,0a.65,.65 0 1,0 -1.3,0M.3,.35L.85,.85M-.5,-.15H.1M-.2,-.45V.15",
              "M-.7,-.7V.1a.7,.7 0 0,0 1.4,0V-.7H.3V.1a.3,.3 0 0,1 -.6,0V-.7ZM-.7,-.35H-.3M.3,-.35H.7",
              "M-.8,.8L-.6,.2L.2,-.6L.6,-.2L-.2,.6ZM.2,.3H.8V.8H.2Z",
              "M-.6,-.1H.6V.8H-.6ZM-.35,-.1V-.4a.35,.35 0 0,1 .7,0V-.1",
              "M-.85,0Q0,-.8 .85,0Q0,.8 -.85,0ZM-.25,0a.25,.25 0 1,0 .5,0a.25,.25 0 1,0 -.5,0",
              "M-.7,-.55H.7M-.25,-.55V-.8H.25V-.55M-.55,-.55V.8H.55V-.55",
              "M-.7,-.15a.55,.55 0 1,0 1.1,0a.55,.55 0 1,0 -1.1,0M.25,.3L.7,.75",
              "M-.7,0a.7,.7 0 1,0 1.4,0a.7,.7 0 1,0 -1.4,0M-.35,0H.35M0,-.35V.35",
              "M-.5,-.4H-.15V.5H-.5ZM-.325,-.8V-.4M-.325,.5V.85M.15,-.35H.5V.35H.15ZM.325,-.7V-.35M.325,.35V.7",
              "M-.8,.8H.8M-.7,.8V.3H-.35V.8M-.1,.8V0H.25V.8M.5,.8V-.3H.8V.8M-.75,0L-.2,-.5L.2,-.2L.8,-.75",
              "M-.7,-.7H-.15V-.15H-.7ZM.15,-.7H.7V-.15H.15ZM-.7,.15H-.15V.7H-.7ZM.15,.15H.7V.7H.15Z",
              "M-.65,0a.65,.65 0 1,0 1.3,0a.65,.65 0 1,0 -1.3,0M0,-.35V0H.3M-.8,-.6L-.5,-.85M.8,-.6L.5,-.85M.5,.7H1M.75,.45V.95",
              "M-.1,-.5L-.7,0L-.1,.5ZM.7,-.5L.1,0L.7,.5Z",
              "M-.6,-.1H.3Q.7,-.1 .7,.5M-.6,-.1L-.25,-.45M-.6,-.1L-.25,.25",
              "M-.65,-.6H.65V.6H-.65Z",
              "M-.2,-.1L0,.1L.2,-.1",
              "M-.3,.12L0,-.15L.3,.12",
              "M-.7,-.55H.7V.7H-.1M-.7,-.55V.7H-.35M-.7,-.1H.7M-.35,-.8V-.4M.35,-.8V-.4M-.5,.35H.1M-.1,.15L.1,.35L-.1,.55",
              "M-.35,-.6H.35L.7,0L.35,.6H-.35L-.7,0ZM-.22,0a.22,.22 0 1,0 .44,0a.22,.22 0 1,0 -.44,0"
            ]
          }
        }
      }
    },
    {"data": {"name": "icons"}, "transform": [{"filter": "datum.icon == 'redo'"}], "mark": {"type": "point", "filled": false, "opacity": 1, "size": 400, "stroke": "#c4c6cc", "strokeWidth": 1, "shape": "M.6,-.1H-.3Q-.7,-.1 -.7,.5M.6,-.1L.25,-.45M.6,-.1L.25,.25"}},
    {"data": {"name": "logo"}, "mark": {"type": "point", "filled": true, "opacity": 1, "color": "#131722", "size": 400, "shape": "M-1,-.6H-.2V.65H-.55V-.2H-1ZM-.15,-.38a.22,.22 0 1,0 .44,0a.22,.22 0 1,0 -.44,0ZM.45,-.6H1L.5,.65H-.05Z"}},
    {"data": {"name": "labels"}, "transform": [{"filter": "datum.g == 'sym'"}], "mark": {"type": "text", "align": "left", "fontSize": 10, "fontWeight": "bold", "color": "#131722"}, "encoding": {"text": {"field": "text"}}},
    {"data": {"name": "labels"}, "transform": [{"filter": "datum.g == 'bar'"}], "mark": {"type": "text", "align": "left", "fontSize": 10, "color": "#2a2e39"}, "encoding": {"text": {"field": "text"}}},
    {"data": {"name": "labels"}, "transform": [{"filter": "datum.g == 'doc'"}], "mark": {"type": "text", "align": "left", "fontSize": 10, "color": "#2a2e39"}, "encoding": {"text": {"field": "text"}}},
    {"data": {"name": "labels"}, "transform": [{"filter": "datum.g == 'save'"}], "mark": {"type": "text", "fontSize": 7, "color": "#2962ff"}, "encoding": {"text": {"field": "text"}}},
    {"data": {"name": "labels"}, "transform": [{"filter": "datum.g == 'avatar'"}], "mark": {"type": "text", "fontSize": 11, "fontWeight": "bold", "color": "white"}, "encoding": {"text": {"field": "text"}}},
    {"data": {"name": "labels"}, "transform": [{"filter": "datum.g == 'badge'"}], "mark": {"type": "text", "fontSize": 7, "fontWeight": "bold", "color": "white"}, "encoding": {"text": {"field": "text"}}},
    {"data": {"name": "labels"}, "transform": [{"filter": "datum.g == 'coin'"}], "mark": {"type": "text", "fontSize": 9, "font": "DejaVu Sans", "color": "white"}, "encoding": {"text": {"field": "text"}}},
    {"data": {"name": "labels"}, "transform": [{"filter": "datum.g == 'title'"}], "mark": {"type": "text", "align": "left", "fontSize": 11.5, "color": "#131722"}, "encoding": {"text": {"field": "text"}}},
    {"data": {"name": "labels"}, "transform": [{"filter": "datum.g == 'key'"}], "mark": {"type": "text", "align": "left", "fontSize": 9.2, "color": "#2a2e39"}, "encoding": {"text": {"field": "text"}}},
    {"data": {"name": "labels"}, "transform": [{"filter": "datum.g == 'val'"}], "mark": {"type": "text", "align": "left", "fontSize": 9.2, "color": "#d94c68"}, "encoding": {"text": {"field": "text"}}},
    {"data": {"name": "labels"}, "transform": [{"filter": "datum.g == 'sellP'"}], "mark": {"type": "text", "fontSize": 9.5, "color": "#d94c68"}, "encoding": {"text": {"field": "text"}}},
    {"data": {"name": "labels"}, "transform": [{"filter": "datum.g == 'sellL'"}], "mark": {"type": "text", "fontSize": 7.5, "color": "#d94c68"}, "encoding": {"text": {"field": "text"}}},
    {"data": {"name": "labels"}, "transform": [{"filter": "datum.g == 'buyP'"}], "mark": {"type": "text", "fontSize": 9.5, "color": "#3f6fd8"}, "encoding": {"text": {"field": "text"}}},
    {"data": {"name": "labels"}, "transform": [{"filter": "datum.g == 'buyL'"}], "mark": {"type": "text", "fontSize": 7.5, "color": "#3f6fd8"}, "encoding": {"text": {"field": "text"}}},
    {"data": {"name": "labels"}, "transform": [{"filter": "datum.g == 'qty'"}], "mark": {"type": "text", "fontSize": 7.5, "color": "#50535e"}, "encoding": {"text": {"field": "text"}}},
    {"data": {"name": "labels"}, "transform": [{"filter": "datum.g == 'indName'"}], "mark": {"type": "text", "align": "left", "fontSize": 9.3, "color": "#2a2e39"}, "encoding": {"text": {"field": "text"}}},
    {"data": {"name": "labels"}, "transform": [{"filter": "datum.g == 'indArgs'"}], "mark": {"type": "text", "align": "left", "fontSize": 9.1, "color": "#7c7f8a"}, "encoding": {"text": {"field": "text"}}},
    {"data": {"name": "labels"}, "transform": [{"filter": "datum.g == 'indUp'"}], "mark": {"type": "text", "align": "left", "fontSize": 9.3, "color": "#2ed8a3"}, "encoding": {"text": {"field": "text"}}},
    {"data": {"name": "labels"}, "transform": [{"filter": "datum.g == 'indDown'"}], "mark": {"type": "text", "align": "left", "fontSize": 9.3, "color": "#e8627c"}, "encoding": {"text": {"field": "text"}}},
    {"data": {"name": "labels"}, "transform": [{"filter": "datum.g == 'tKey'"}], "mark": {"type": "text", "align": "left", "fontSize": 6.5, "fontWeight": "bold", "color": "#eef0ee"}, "encoding": {"text": {"field": "text"}}},
    {"data": {"name": "labels"}, "transform": [{"filter": "datum.g == 'tLive'"}], "mark": {"type": "text", "align": "right", "fontSize": 6.5, "fontWeight": "bold", "color": "#eef8f0"}, "encoding": {"text": {"field": "text"}}},
    {"data": {"name": "labels"}, "transform": [{"filter": "datum.g == 'tBull'"}], "mark": {"type": "text", "align": "right", "fontSize": 6.5, "fontWeight": "bold", "color": "#139a5a"}, "encoding": {"text": {"field": "text"}}},
    {"data": {"name": "labels"}, "transform": [{"filter": "datum.g == 'tMute'"}], "mark": {"type": "text", "align": "right", "fontSize": 6.5, "fontWeight": "bold", "color": "#6f7372"}, "encoding": {"text": {"field": "text"}}},
    {"data": {"name": "labels"}, "transform": [{"filter": "datum.g == 'usd'"}], "mark": {"type": "text", "align": "left", "fontSize": 9, "color": "#2a2e39"}, "encoding": {"text": {"field": "text"}}},
    {"data": {"name": "labels"}, "transform": [{"filter": "datum.g == 'logo'"}], "mark": {"type": "text", "align": "left", "fontSize": 15.5, "fontWeight": 500, "color": "#131722"}, "encoding": {"text": {"field": "text"}}},
    {"data": {"name": "labels"}, "transform": [{"filter": "datum.g == 'range'"}], "mark": {"type": "text", "fontSize": 9.5, "color": "#2a2e39"}, "encoding": {"text": {"field": "text"}}},
    {"data": {"name": "labels"}, "transform": [{"filter": "datum.g == 'clock'"}], "mark": {"type": "text", "align": "right", "fontSize": 10, "color": "#3c3f48"}, "encoding": {"text": {"field": "text"}}},
    {"data": {"name": "labels"}, "transform": [{"filter": "datum.g == 'tag'"}], "mark": {"type": "text", "align": "left", "fontSize": 9.2, "color": "#e0607a"}, "encoding": {"text": {"field": "text"}}},
    {"data": {"name": "labels"}, "transform": [{"filter": "datum.g == 'now'"}], "mark": {"type": "text", "align": "left", "fontSize": 9, "color": "#0b7a46"}, "encoding": {"text": {"field": "text"}}}
  ]
}
